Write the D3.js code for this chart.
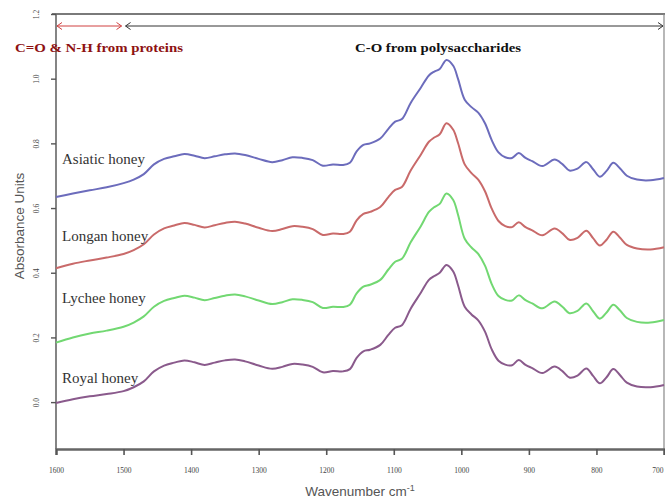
<!DOCTYPE html>
<html>
<head>
<meta charset="utf-8">
<title>FTIR honey spectra</title>
<script src="https://cdnjs.cloudflare.com/ajax/libs/d3/7.8.5/d3.min.js"></script>
<style>
body { margin: 0; background: #fff; }
svg { display: block; }
.tick text { font-family: 'Liberation Serif', serif; }
</style>
</head>
<body>
<div id="chart"></div>
<script>
// wavenumbers (cm-1) the spectra are read at
var wavenumbers = [1600,1575,1550,1525,1500,1485,1470,1455,1440,1425,1410,1395,1380,1365,1350,1335,1320,1300,1280,1265,1250,1235,1220,1205,1190,1175,1165,1155,1145,1135,1120,1108,1098,1088,1075,1060,1048,1040,1032,1022,1012,1005,995,985,975,965,955,945,935,925,915,905,895,880,862,850,840,828,815,805,795,785,775,765,755,740,720,700];

var asiatic = [0.634,0.645,0.655,0.664,0.677,0.688,0.705,0.735,0.752,0.760,0.767,0.762,0.754,0.760,0.766,0.769,0.764,0.752,0.742,0.748,0.757,0.755,0.748,0.731,0.735,0.733,0.740,0.775,0.795,0.800,0.815,0.845,0.867,0.875,0.925,0.972,1.010,1.022,1.030,1.058,1.040,1.000,0.935,0.912,0.895,0.862,0.810,0.772,0.757,0.755,0.770,0.755,0.745,0.730,0.750,0.735,0.716,0.722,0.742,0.720,0.697,0.715,0.740,0.722,0.700,0.688,0.686,0.693];
var longan = [0.414,0.428,0.438,0.447,0.458,0.470,0.488,0.518,0.537,0.546,0.554,0.548,0.540,0.547,0.554,0.558,0.552,0.539,0.529,0.535,0.544,0.542,0.535,0.517,0.521,0.520,0.527,0.562,0.582,0.588,0.603,0.634,0.656,0.665,0.716,0.765,0.805,0.818,0.828,0.862,0.842,0.802,0.735,0.708,0.688,0.652,0.598,0.560,0.544,0.541,0.556,0.541,0.531,0.516,0.537,0.521,0.502,0.508,0.530,0.507,0.484,0.502,0.527,0.508,0.486,0.475,0.472,0.479];
var lychee = [0.184,0.200,0.212,0.221,0.233,0.246,0.265,0.295,0.313,0.322,0.329,0.323,0.315,0.322,0.329,0.333,0.327,0.314,0.303,0.309,0.318,0.316,0.309,0.291,0.295,0.294,0.301,0.336,0.357,0.363,0.378,0.410,0.434,0.443,0.494,0.544,0.588,0.603,0.613,0.645,0.625,0.580,0.505,0.478,0.458,0.422,0.365,0.328,0.316,0.314,0.330,0.315,0.305,0.290,0.311,0.294,0.275,0.282,0.305,0.281,0.258,0.277,0.301,0.283,0.260,0.248,0.246,0.254];
var royal = [-0.003,0.009,0.018,0.025,0.034,0.046,0.064,0.095,0.113,0.122,0.129,0.123,0.115,0.122,0.129,0.132,0.126,0.113,0.103,0.109,0.118,0.116,0.109,0.092,0.096,0.095,0.102,0.137,0.157,0.162,0.177,0.208,0.230,0.238,0.289,0.338,0.378,0.390,0.400,0.424,0.404,0.362,0.295,0.271,0.253,0.218,0.163,0.128,0.116,0.114,0.130,0.115,0.105,0.090,0.110,0.095,0.076,0.082,0.104,0.081,0.058,0.077,0.102,0.083,0.060,0.048,0.046,0.053];

var seriesNames = ["Asiatic honey", "Longan honey", "Lychee honey", "Royal honey"];
var seriesValues = [asiatic, longan, lychee, royal];

var xTicks = [1600,1500,1400,1300,1200,1100,1000,900,800,700];
var yTicks = [0.0,0.2,0.4,0.6,0.8,1.0,1.2];

// region brackets along the top: [from, to] in cm-1
var regionNames = ["C=O & N-H from proteins", "C-O from polysaccharides"];
var regionSpans = [[1600,1500],[1500,700]];

// ----------------------------------------------------------------
var W = 665, H = 500;
var colors = ["#6c6cbc", "#c96a6a", "#72d872", "#8a5a8c"];
var labelBase = [164, 241, 303, 383];   // label baselines in px

var x = d3.scaleLinear().domain([1600, 700]).range([56, 664]);
var y = d3.scaleLinear().domain([-0.145, 1.2]).range([449, 14]);

var svg = d3.select("#chart").append("svg")
    .attr("width", W).attr("height", H);

// frame: top + right
svg.append("line")
    .attr("x1", x(1600) - 4).attr("x2", W)
    .attr("y1", y(1.2)).attr("y2", y(1.2))
    .attr("stroke", "#7a7a7a").attr("stroke-width", 2.2);
svg.append("line")
    .attr("x1", x(700)).attr("x2", x(700))
    .attr("y1", y(1.2)).attr("y2", y(-0.145))
    .attr("stroke", "#888").attr("stroke-width", 1.2);

// bottom axis
var gx = svg.append("g")
    .attr("transform", "translate(0," + y(-0.145) + ")")
    .call(d3.axisBottom(x).tickValues(xTicks).tickSize(6).tickPadding(13)
        .tickFormat(d3.format("d")));
gx.select(".domain").attr("stroke", "#666").attr("stroke-width", 2.4);
gx.selectAll(".tick line").attr("stroke", "#555").attr("stroke-width", 1.6);
gx.selectAll(".tick text").attr("font-size", 7.5).attr("fill", "#444");
gx.selectAll(".tick text").filter(function(d) { return d === 700; })
    .attr("text-anchor", "end").attr("x", -1);

// left axis
var gy = svg.append("g")
    .attr("transform", "translate(" + x(1600) + ",0)")
    .call(d3.axisLeft(y).tickValues(yTicks).tickSize(5).tickFormat(d3.format(".1f")));
gy.select(".domain").attr("stroke", "#666").attr("stroke-width", 1.6)
    .attr("d", "M0," + y(1.2) + "V" + y(-0.145));
gy.selectAll(".tick line").attr("stroke", "#555").attr("stroke-width", 1.4);
gy.selectAll(".tick text")
    .attr("font-size", 7.5).attr("fill", "#444")
    .attr("x", null).attr("dy", null)
    .attr("text-anchor", "middle")
    .attr("transform", "translate(-17,0) rotate(-90)");

// axis titles
svg.append("text")
    .attr("transform", "translate(24," + 226 + ") rotate(-90)")
    .attr("text-anchor", "middle")
    .attr("font-family", "'Liberation Sans', Arial, sans-serif")
    .attr("font-size", 13.5).attr("fill", "#555")
    .text("Absorbance Units");

var xt = svg.append("text")
    .attr("x", 360).attr("y", 496)
    .attr("text-anchor", "middle")
    .attr("font-family", "'Liberation Sans', Arial, sans-serif")
    .attr("font-size", 13.5).attr("fill", "#555");
xt.append("tspan").text("Wavenumber cm");
xt.append("tspan").attr("dy", -5).attr("font-size", 9).text("-1");

// spectra
var line = d3.line()
    .x(function(d) { return x(d[0]); })
    .y(function(d) { return y(d[1]); })
    .curve(d3.curveCatmullRom.alpha(0.5));

seriesValues.forEach(function(vals, i) {
  var pts = wavenumbers.map(function(w, j) { return [w, vals[j]]; });
  svg.append("path")
      .attr("d", line(pts))
      .attr("fill", "none")
      .attr("stroke", colors[i])
      .attr("stroke-width", 2)
      .attr("stroke-linejoin", "round");
  svg.append("text")
      .attr("x", 62).attr("y", labelBase[i])
      .attr("font-family", "'Liberation Serif', 'Times New Roman', serif")
      .attr("font-size", 15).attr("fill", "#333")
      .text(seriesNames[i]);
});

// region arrows + titles
var arrowY = 26;
var arrowCol = ["#d04040", "#333"];
regionSpans.forEach(function(s, i) {
  var x1 = x(s[0]) + (i === 0 ? 1 : 2), x2 = x(s[1]) - (i === 0 ? 2 : 1);
  var g = svg.append("g").attr("stroke", arrowCol[i]).attr("fill", "none").attr("stroke-width", 1);
  g.append("line").attr("x1", x1).attr("x2", x2).attr("y1", arrowY).attr("y2", arrowY);
  g.append("path").attr("d", "M" + (x1 + 5) + "," + (arrowY - 3.5) + "L" + x1 + "," + arrowY + "L" + (x1 + 5) + "," + (arrowY + 3.5));
  g.append("path").attr("d", "M" + (x2 - 5) + "," + (arrowY - 3.5) + "L" + x2 + "," + arrowY + "L" + (x2 - 5) + "," + (arrowY + 3.5));
});

svg.append("text")
    .attr("x", 15).attr("y", 52)
    .attr("font-family", "'Liberation Serif', 'Times New Roman', serif")
    .attr("font-weight", "bold").attr("font-size", 13.5)
    .attr("fill", "#8e1212")
    .attr("textLength", 168).attr("lengthAdjust", "spacingAndGlyphs")
    .text(regionNames[0]);

svg.append("text")
    .attr("x", 355).attr("y", 52)
    .attr("font-family", "'Liberation Serif', 'Times New Roman', serif")
    .attr("font-weight", "bold").attr("font-size", 13.5)
    .attr("fill", "#111")
    .attr("textLength", 166).attr("lengthAdjust", "spacingAndGlyphs")
    .text(regionNames[1]);
</script>
</body>
</html>
